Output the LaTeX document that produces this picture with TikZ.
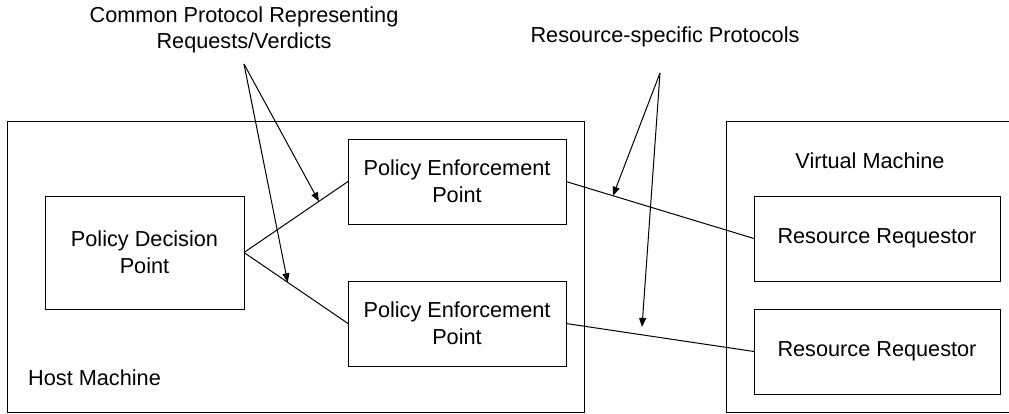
\documentclass[tikz,border=0pt]{standalone}
\usepackage{fontspec}
\setmainfont{Liberation Sans}
\usetikzlibrary{arrows.meta,calc}
\begin{document}
\begin{tikzpicture}
	[x=1pt,y=-1pt,
		every node/.style={font=\fontsize{21.7}{26.7}\selectfont},
		frame/.style={draw,black,line width=1pt,inner sep=0pt,outer sep=0pt},
		box/.style={frame,align=center,minimum height=85pt},
		link/.style={black,line width=1pt},
		pointer/.style={-{Triangle[length=9pt,width=7pt]},black,line width=1pt}]
	\useasboundingbox (0,0) rectangle (1009,413);
	\clip (0,0) rectangle (1009,413);
	% machines
	\node[frame,minimum width=577pt,minimum height=291pt] (host) at (295.5,266.5) {};
	\node[frame,minimum width=294pt,minimum height=291pt] (vm) at (873,266.5) {};
	\node[anchor=base west,inner sep=0pt] (hostlabel) at (28,385) {Host Machine};
	\node[anchor=base,inner sep=0pt] (vmlabel) at (870,168) {Virtual Machine};
	% boxes
	\node[box,minimum width=199pt,minimum height=113pt] (pdp) at (144.5,252.5) {Policy Decision\\Point};
	\node[box,minimum width=218pt] (pep1) at (457,181.5) {Policy Enforcement\\Point};
	\node[box,minimum width=218pt] (pep2) at (457,323.5) {Policy Enforcement\\Point};
	\node[box,minimum width=246pt] (rr1) at (877,238.5) {Resource Requestor};
	\node[box,minimum width=246pt] (rr2) at (877,351.5) {Resource Requestor};
	\draw[link] (pdp.east) -- (pep1.west);
	\draw[link] (pdp.east) -- (pep2.west);
	\draw[link] (pep1.east) -- (rr1.west);
	\draw[link] (pep2.east) -- (rr2.west);
	% labels
	\node[align=center,inner sep=0pt] (common) at (244,30) {Common Protocol Representing\\Requests/Verdicts};
	\node[anchor=base,inner sep=0pt] (specific) at (665,42.7) {Resource-specific Protocols};
	\coordinate (C) at (244,64);
	\coordinate (S) at (660,73);
	\coordinate (C1) at ($(pdp.east)!0.72!(pep1.west)$);
	\coordinate (C2) at ($(pdp.east)!0.42!(pep2.west)$);
	\coordinate (S1) at ($(pep1.east)!0.25!(rr1.west)$);
	\coordinate (S2) at (642,327);
	\draw[pointer] (C) -- (C1);
	\draw[pointer] (C) -- (C2);
	\draw[pointer] (S) -- (S1);
	\draw[pointer] (S) -- (S2);
\end{tikzpicture}
\end{document}
